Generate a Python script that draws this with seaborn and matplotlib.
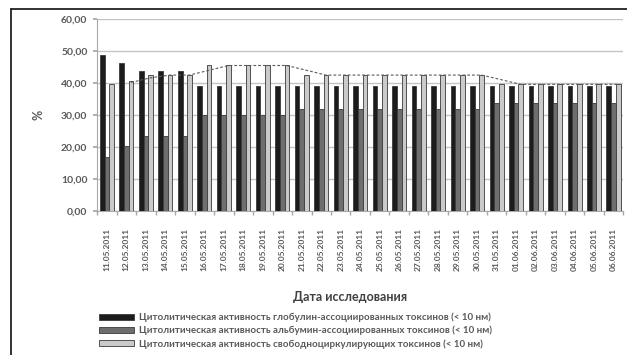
import numpy as np
import pandas as pd
import matplotlib
matplotlib.use("Agg")
import matplotlib.pyplot as plt
import matplotlib.patches as mpatches
from matplotlib.lines import Line2D
import seaborn as sns

dates = ["11.05.2011", "12.05.2011", "13.05.2011", "14.05.2011", "15.05.2011",
         "16.05.2011", "17.05.2011", "18.05.2011", "19.05.2011", "20.05.2011",
         "21.05.2011", "22.05.2011", "23.05.2011", "24.05.2011", "25.05.2011",
         "26.05.2011", "27.05.2011", "28.05.2011", "29.05.2011", "30.05.2011",
         "31.05.2011", "01.06.2011", "02.06.2011", "03.06.2011", "04.06.2011",
         "05.06.2011", "06.06.2011"]

globulin = [48.8, 46.4, 43.9, 43.9, 43.9, 39.0, 39.0, 39.0, 39.0, 39.0,
            39.0, 39.0, 39.0, 39.0, 39.0, 39.0, 39.0, 39.0, 39.0, 39.0,
            39.0, 39.0, 39.0, 39.0, 39.0, 39.0, 39.0]
albumin = [17.0, 20.3, 23.3, 23.3, 23.3, 30.0, 30.0, 30.0, 30.0, 30.0,
           32.0, 32.0, 32.0, 32.0, 32.0, 32.0, 32.0, 32.0, 32.0, 32.0,
           33.8, 33.8, 33.8, 33.8, 33.8, 33.8, 33.8]
free = [39.6, 40.8, 42.5, 42.5, 42.5, 45.5, 45.5, 45.5, 45.5, 45.5,
        42.5, 42.5, 42.5, 42.5, 42.5, 42.5, 42.5, 42.5, 42.5, 42.5,
        39.6, 39.6, 39.6, 39.6, 39.6, 39.6, 39.6]

series_names = [
    "Цитолитическая активность глобулин-ассоциированных токсинов (< 10 нм)",
    "Цитолитическая активность альбумин-ассоциированных токсинов (< 10 нм)",
    "Цитолитическая активность свободноциркулирующих токсинов (< 10 нм)",
]
colors = ["#1c1c1c", "#6e6e6e", "#cacaca"]

df = pd.DataFrame({
    "date": dates * 3,
    "value": globulin + albumin + free,
    "series": [series_names[0]] * len(dates) + [series_names[1]] * len(dates) + [series_names[2]] * len(dates),
})

sns.set_theme(style="white")
plt.rcParams["font.family"] = ["Lato", "DejaVu Sans"]

fig = plt.figure(figsize=(6.27, 3.55), dpi=100)
ax = fig.add_axes([0.155, 0.406, 0.839, 0.540])

sns.barplot(data=df, x="date", y="value", hue="series", hue_order=series_names,
            palette=colors, width=0.72, edgecolor="#3a3a3a", linewidth=0.6,
            ax=ax, legend=False, errorbar=None, zorder=3)

# moving-average trendline (period 2) over the free-toxin series
trend = pd.Series(free).rolling(2).mean()
xs = np.arange(len(dates))
offset = 0.72 / 3
ax.plot(xs[1:] + offset, trend[1:], linestyle=(0, (2.5, 1.8)), color="#5a5a5a", lw=0.8, zorder=4)

ax.set_ylim(0, 60)
ax.set_xlim(-0.5, len(dates) - 0.5)
ax.set_yticks(np.arange(0, 61, 10))
ax.set_yticklabels([f"{v:.2f}".replace(".", ",") for v in np.arange(0, 61, 10)],
                   fontsize=7.5, fontweight="bold", color="#595959")
ax.yaxis.grid(True, color="#c4c4c4", lw=1.0, zorder=0)
ax.set_axisbelow(True)
for s in ["top", "right"]:
    ax.spines[s].set_visible(False)
for s in ["left", "bottom"]:
    ax.spines[s].set_color("#a8a8a8")
    ax.spines[s].set_linewidth(0.8)
ax.tick_params(axis="y", left=True, length=3, color="#a8a8a8", pad=4)
ax.set_xticks(xs)
ax.set_xticklabels(dates, rotation=90, fontsize=6, fontweight="bold", color="#595959")
ax.tick_params(axis="x", bottom=False, pad=6)
ax.set_xticks(np.arange(-0.5, len(dates), 1), minor=True)
ax.tick_params(axis="x", which="minor", bottom=True, length=3, color="#a8a8a8")

ax.set_ylabel("%", fontsize=9, fontweight="bold", color="#595959", labelpad=12)
ax.set_xlabel("")
fig.text(0.558, 0.163, "Дата исследования", ha="center", va="center",
         fontsize=9, fontweight="bold", color="#404040")

handles = [mpatches.Patch(facecolor=c, edgecolor="#3a3a3a", linewidth=0.6) for c in colors]
fig.legend(handles, series_names, loc="upper left", bbox_to_anchor=(0.150, 0.133),
           frameon=False, handlelength=3.6, handleheight=0.6,
           handletextpad=0.55, labelspacing=0.38, borderpad=0,
           prop={"weight": "bold", "size": 7}, labelcolor="#595959")

# outer frame (left and top edges visible)
fig.add_artist(Line2D([0.018, 0.018], [0.0, 0.974], color="#111111", lw=1.2, transform=fig.transFigure))
fig.add_artist(Line2D([0.018, 1.0], [0.974, 0.974], color="#111111", lw=1.2, transform=fig.transFigure))

fig.savefig("out.png", dpi=100)
